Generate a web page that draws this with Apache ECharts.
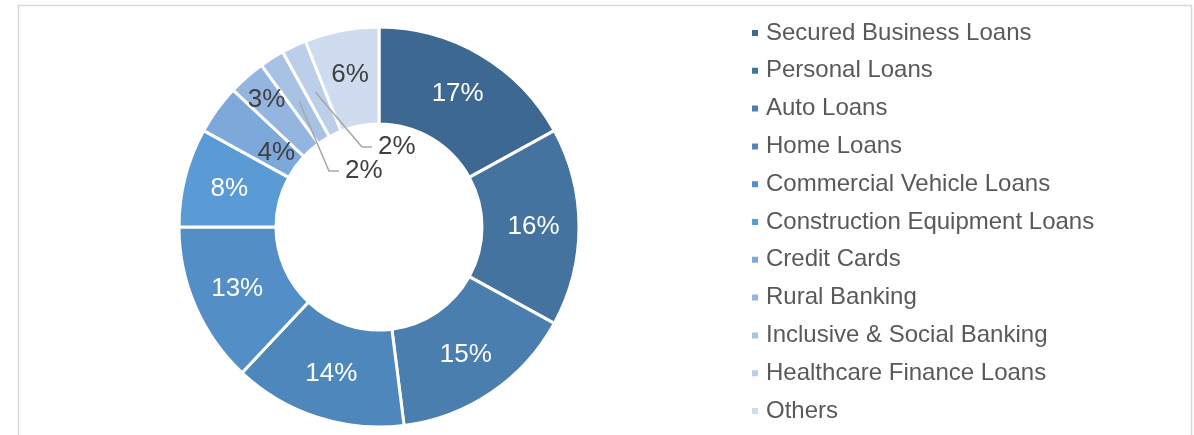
<!DOCTYPE html>
<html>
<head>
<meta charset="utf-8">
<script src="https://cdn.jsdelivr.net/npm/echarts@6/dist/echarts.min.js"></script>
<style>
html, body { margin: 0; padding: 0; background: #fff; }
#main { width: 1194px; height: 435px; }
</style>
</head>
<body>
<div id="main"></div>
<script>
// 数据
var categories = ['Secured Business Loans', 'Personal Loans', 'Auto Loans', 'Home Loans',
    'Commercial Vehicle Loans', 'Construction Equipment Loans', 'Credit Cards', 'Rural Banking',
    'Inclusive & Social Banking', 'Healthcare Finance Loans', 'Others'];
var shares = [17, 16, 15, 14, 13, 8, 4, 3, 2, 2, 6];

// 颜色
var sliceColors = ['#3c6891', '#44739f', '#4a7eae', '#4e87bb', '#538fc6', '#5a9bd5',
    '#7ca8da', '#93b5e0', '#a8c2e4', '#bbcfea', '#cfdcef'];
var darkText = '#404040';

// 环形图几何
var cx = 379, cy = 227, rIn = 103, rOut = 200;
// 拥挤扇区的标签半径
var labelRadius = {6: 127, 7: 170};
// 引导线拐点 (相对圆心)
var calloutElbow = {8: [-50, -56], 9: [-17, -80]};

var total = shares.reduce(function (a, b) { return a + b; }, 0);

function midAngle(i) {
    var before = 0;
    for (var j = 0; j < i; j++) before += shares[j];
    return (before + shares[i] / 2) / total * Math.PI * 2;
}
function polar(a, r) {
    return [cx + r * Math.sin(a), cy - r * Math.cos(a)];
}
function calloutPoints(i) {
    var start = polar(midAngle(i), 149);
    var elbow = [cx + calloutElbow[i][0], cy + calloutElbow[i][1]];
    var end = [elbow[0] + 10, elbow[1]];
    return [start, elbow, end];
}

var pieData = categories.map(function (name, i) {
    var item = {name: name, value: shares[i], itemStyle: {color: sliceColors[i]}};
    if (i >= 6) item.label = {color: darkText};
    return item;
});

// 引导线
var leaderLines = [];
for (var k in calloutElbow) {
    leaderLines.push({
        type: 'polyline',
        z: 100,
        silent: true,
        shape: {points: calloutPoints(+k)},
        style: {stroke: '#a6a6a6', lineWidth: 1.5, fill: 'none'}
    });
}

var chart = echarts.init(document.getElementById('main'));
var option = {
    animation: false,
    textStyle: {fontFamily: 'Liberation Sans, Arial, sans-serif'},
    graphic: [{
        type: 'rect',
        shape: {x: 18.5, y: 5.5, width: 1173, height: 450},
        style: {fill: 'none', stroke: '#d9d9d9', lineWidth: 1.5},
        silent: true
    }].concat(leaderLines),
    legend: {
        orient: 'vertical',
        left: 745,
        top: 16,
        icon: 'rect',
        itemWidth: 8,
        itemHeight: 8,
        itemGap: 13.8,
        data: categories,
        textStyle: {fontSize: 24, lineHeight: 24, color: '#595959', padding: [0, 0, 0, 2]}
    },
    series: [{
        type: 'pie',
        center: [cx, cy],
        radius: [rIn, rOut],
        startAngle: 90,
        clockwise: true,
        avoidLabelOverlap: false,
        itemStyle: {borderColor: '#fff', borderWidth: 3},
        label: {
            show: true,
            position: 'inside',
            formatter: '{c}%',
            fontSize: 26,
            color: '#fff'
        },
        labelLine: {show: false},
        emphasis: {disabled: true},
        labelLayout: function (params) {
            var i = params.dataIndex;
            if (labelRadius[i]) {
                var p = polar(midAngle(i), labelRadius[i]);
                return {x: p[0], y: p[1], align: 'center', verticalAlign: 'middle'};
            }
            if (calloutElbow[i]) {
                var end = calloutPoints(i)[2];
                return {x: end[0] + 6, y: end[1], align: 'left', verticalAlign: 'middle'};
            }
        },
        data: pieData
    }]
};
chart.setOption(option);
</script>
</body>
</html>
